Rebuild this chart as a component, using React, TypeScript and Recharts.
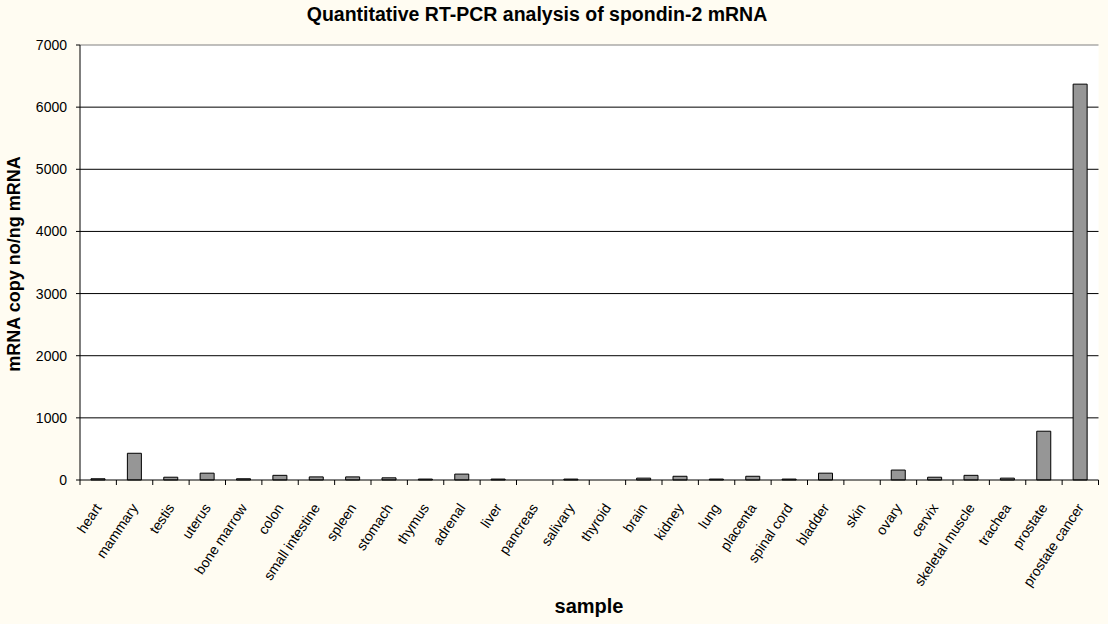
import React from 'react';
import { BarChart, Bar, XAxis, YAxis, CartesianGrid, ReferenceLine } from 'recharts';

const samples = [
    'heart', 'mammary', 'testis', 'uterus', 'bone marrow', 'colon', 'small intestine',
    'spleen', 'stomach', 'thymus', 'adrenal', 'liver', 'pancreas', 'salivary', 'thyroid',
    'brain', 'kidney', 'lung', 'placenta', 'spinal cord', 'bladder', 'skin', 'ovary',
    'cervix', 'skeletal muscle', 'trachea', 'prostate', 'prostate cancer',
];

const copies = [
    20, 430, 45, 110, 20, 75, 50,
    50, 35, 15, 95, 15, 0, 15, 0,
    30, 60, 15, 60, 15, 110, 0, 160,
    45, 75, 30, 785, 6370,
];

const yTicks = [0, 1000, 2000, 3000, 4000, 5000, 6000, 7000];
const gridValues = [1000, 2000, 3000, 4000, 5000, 6000];

const chartData = samples.map((sample, i) => ({ sample, copies: copies[i] }));

const font = '"Liberation Sans", Arial, sans-serif';

// category ticks sit on the band edges (Excel style), labels slanted under the band centre
const SampleTick = (props: any) => {
    const { x, y, payload, index, width, visibleTicksCount } = props;
    const band = width && visibleTicksCount ? width / visibleTicksCount : (payload.offset || 18) * 2;
    const tx = x;
    const ty = y + 25;
    return (
        <g>
            <line x1={x - band / 2} y1={y} x2={x - band / 2} y2={y + 5} stroke="#000" />
            {index === visibleTicksCount - 1 && (
                <line x1={x + band / 2} y1={y} x2={x + band / 2} y2={y + 5} stroke="#000" />
            )}
            <g transform={`translate(${tx}, ${ty}) rotate(-56)`}>
                <text x={0} y={0} dy="0.35em" textAnchor="end" fontSize={14} fontFamily={font} fill="#000">
                    {payload.value}
                </text>
            </g>
        </g>
    );
};

const App = () => {
    return (
        <div style={{ position: 'absolute', left: 0, top: 0, width: 1108, height: 624, background: '#FFFCF2', fontFamily: font }}>
            <div style={{ position: 'absolute', left: 0, width: 1074, top: 3, textAlign: 'center', fontWeight: 'bold', fontSize: 19.5, color: '#000' }}>
                Quantitative RT-PCR analysis of spondin-2 mRNA
            </div>
            <div
                style={{
                    position: 'absolute',
                    left: 14 - 150,
                    top: 264 - 12,
                    width: 300,
                    height: 24,
                    lineHeight: '24px',
                    textAlign: 'center',
                    fontWeight: 'bold',
                    fontSize: 18,
                    color: '#000',
                    transform: 'rotate(-90deg)',
                }}
            >
                mRNA copy no/ng mRNA
            </div>
            <div style={{ position: 'absolute', left: 489, width: 200, top: 595, textAlign: 'center', fontWeight: 'bold', fontSize: 20, color: '#000' }}>
                sample
            </div>
            <BarChart
                width={1108}
                height={624}
                data={chartData}
                margin={{ top: 45, right: 9.5, bottom: 0, left: 0 }}
            >
                <CartesianGrid
                    fill="#ffffff"
                    vertical={false}
                    horizontalValues={gridValues}
                    stroke="#000"
                    strokeOpacity={1}
                />
                <XAxis
                    dataKey="sample"
                    interval={0}
                    height={144}
                    tickSize={0}
                    tickMargin={0}
                    tickLine={false}
                    axisLine={{ stroke: '#000' }}
                    tick={<SampleTick />}
                />
                <YAxis
                    width={80}
                    domain={[0, 7000]}
                    ticks={yTicks}
                    interval={0}
                    tickSize={4}
                    tickMargin={9}
                    axisLine={{ stroke: '#000' }}
                    tickLine={{ stroke: '#000' }}
                    tick={{ fill: '#000', fontSize: 14, fontFamily: font }}
                />
                <YAxis
                    yAxisId="edge"
                    orientation="right"
                    width={0}
                    domain={[0, 7000]}
                    tick={false}
                    tickLine={false}
                    axisLine={{ stroke: '#808080' }}
                />
                <ReferenceLine y={7000} stroke="#808080" />
                <Bar dataKey="copies" fill="#969696" stroke="#000" strokeWidth={1} barSize={14} isAnimationActive={false} />
            </BarChart>
        </div>
    );
};

export default App;
